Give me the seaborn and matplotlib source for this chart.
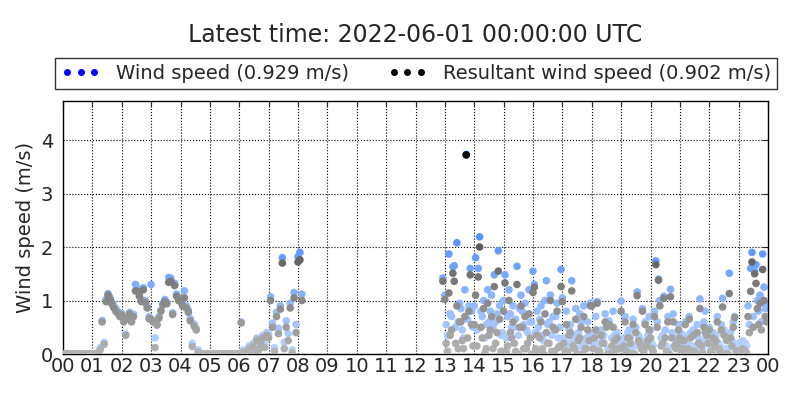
import numpy as np
import pandas as pd
import seaborn as sns
import matplotlib.pyplot as plt
from matplotlib.colors import LinearSegmentedColormap
from matplotlib.lines import Line2D

# ---------------------------------------------------------
# data: one row per hour, samples evenly spread over the hour (m/s)
# nan = no data
# ---------------------------------------------------------
nan = np.nan

wind_speed = [
    [0] * 15,                                                                                # 00
    [0, 0, 0, 0.04, 0.12, 0.63, 0.22, 1.02, 1.13, 1.06, 0.97, 0.9, 0.85, 0.8, 0.74],         # 01
    [0.76, 0.64, 0.37, 0.7, 0.78, 0.64, 0.74, 1.3, 1.22, 1.12, 1.02, 1.24, 1.0, 0.9, 0.7],   # 02
    [1.3, 0.62, 0.3, 0.56, 0.7, 0.82, 0.95, 1.02, 0.97, 1.43, 1.42, 0.77, 1.32, 1.12, 1.05], # 03
    [1.02, 0.95, 1.18, 0.9, 0.82, 0.66, 0.2, 0.56, 0.48, 0.08, 0, 0, 0, 0, 0],               # 04
    [0] * 15,                                                                                # 05
    [0, 0.6, 0.08, 0, 0.05, 0.15, 0, 0.2, 0.05, 0.3, 0.12, 0.25, 0.35, 0.18, 0.4],           # 06
    [0.38, 1.07, 0.58, 0.12, 0.78, 0.48, 0.9, 1.8, 0.22, 0.62, 0.38, 0.95, 0.08, 1.15, 0.55],# 07
    [1.82, 1.9, 1.12] + [nan] * 12,                                                          # 08
    [nan] * 15, [nan] * 15, [nan] * 15,                                                      # 09-11
    [nan] * 14 + [1.42],                                                                     # 12
    [1.1, 0.55, 0.35, 1.87, 0.75, 0.7, 1.63, 1.65, 0.5, 2.08, 0.6, 0.95, 0.85, 0.45, 0.3,
     1.2, 3.73, 0.65, 0.9, 1.6, 0.8, 0.5],                                                   # 13
    [0.9, 1.8, 0.45, 1.6, 2.19, 0.8, 0.7, 1.0, 0.3, 0.55, 1.2, 0.6, 0.8, 1.1, 0.5,
     1.48, 0.6, 0.75, 1.93, 0.9, 0.35, 0.4],                                                 # 14
    [1.0, 1.48, 0.3, 0.7, 1.2, 0.75, 0.5, 0.9, 0.5, 0.65, 1.64, 0.35, 0.85, 1.1, 0.8,
     0.55, 0.95, 0.45, 0.4, 1.2, 0.6, 0.6],                                                  # 15
    [1.55, 1.3, 0.4, 0.8, 0.5, 0.65, 0.9, 0.35, 0.25, 1.0, 1.37, 0.55, 0.6, 1.1, 0.35,
     0.7, 0.45, 0.7, 0.95, 0.3, 0.5, 1.58],                                                  # 16
    [1.05, 0.3, 0.15, 0.8, 0.2, 0.45, 0.55, 1.37, 0.25, 0.35, 0.85, 0.1, 0.4, 0.75, 0.6,
     0.15, 0.9, 0.2, 0.3, 0.6, 0.35, 0.95],                                                  # 17
    [0.95, 0.2, 0.4, 0.7, 0.98, 0.15, 0.2, 0.45, 0.3, 0.35, 0.75, 0.6, 0.1, 0.62, 0.1,
     0.3, 0.8, 0.35, 0.2, 0.4, 0.2, 0.25],                                                   # 18
    [0.99, 0.2, 0.3, 0.7, 0.15, 0.4, 0.45, 0.3, 0.1, 0.65, 0.15, 0.5, 1.16, 0.35, 0.3,
     0.25, 0.85, 0.15, 0.6, 0.25, 0.35, 0.7],                                                # 19
    [0.45, 0.2, 0.15, 0.8, 1.74, 0.6, 1.4, 1.0, 0.3, 0.35, 1.08, 0.45, 0.15, 0.7, 0.1,
     1.21, 0.4, 0.75, 0.3, 0.2, 0.3, 0.55],                                                  # 20
    [0.4, 0.15, 0.2, 0.35, 0.6, 0.1, 0.2, 0.7, 0.4, 0.15, 0.45, 0.15, 0.1, 0.55, 0.3,
     1.03, 0.25, 0.1, 0.6, 0.8, 0.45, 0.3],                                                  # 21
    [0.5, 0.15, 0.1, 0.4, 0.25, 0.35, 0.7, 0.2, 0.15, 0.55, 1.04, 0.45, 0.1, 0.35, 0.1,
     1.51, 0.4, 0.25, 0.6, 0.7, 0.15, 0.15],                                                 # 22
    [0.2, 0.1, 0.12, 0.25, 0.05, 0.2, 0.15, 0.9, 0.55, 1.6, 1.9, 0.7, 1.55, 1.67, 1.0,
     0.8, 1.1, 0.6, 1.87, 1.25, 0.85, 0.9],                                                  # 23
]

resultant_speed = [
    [0] * 15,                                                                                # 00
    [0, 0, 0, 0.02, 0.08, 0.6, 0.18, 0.98, 1.1, 1.02, 0.93, 0.86, 0.8, 0.76, 0.7],           # 01
    [0.73, 0.6, 0.35, 0.66, 0.75, 0.6, 0.7, 1.18, 1.17, 1.08, 0.98, 1.2, 0.96, 0.86, 0.66],  # 02
    [0.65, 0.6, 0.12, 0.54, 0.67, 0.8, 0.92, 0.98, 0.94, 1.34, 1.36, 0.74, 1.28, 1.08, 1.0], # 03
    [0.98, 0.9, 1.05, 0.86, 0.78, 0.62, 0.14, 0.52, 0.45, 0.04, 0, 0, 0, 0, 0],              # 04
    [0] * 15,                                                                                # 05
    [0, 0.58, 0.04, 0, 0.02, 0.1, 0, 0.15, 0.02, 0.26, 0.08, 0.2, 0.3, 0.12, 0.35],          # 06
    [0.3, 1.0, 0.5, 0.05, 0.7, 0.38, 0.84, 1.7, 0.1, 0.5, 0.25, 0.86, 0.02, 1.05, 0.4],      # 07
    [1.72, 1.76, 1.0] + [nan] * 12,                                                          # 08
    [nan] * 15, [nan] * 15, [nan] * 15,                                                      # 09-11
    [nan] * 14 + [1.36],                                                                     # 12
    [1.02, 0.2, 0.05, 1.14, 0.35, 0.45, 1.51, 1.36, 0.2, 0.9, 0.1, 0.6, 0.6, 0.25, 0.1,
     0.7, 3.72, 0.3, 0.8, 1.48, 0.55, 0.15],                                                 # 13
    [0.55, 1.1, 0.15, 1.44, 2.0, 0.5, 0.3, 0.85, 0.02, 0.1, 0.95, 0.35, 0.45, 0.7, 0.1,
     1.26, 0.2, 0.4, 1.55, 0.65, 0.05, 0.05],                                                # 14
    [0.8, 1.33, 0.05, 0.15, 1.0, 0.4, 0.3, 0.6, 0.2, 0.05, 1.3, 0.0, 0.5, 0.9, 0.5,
     0.1, 0.7, 0.1, 0.2, 0.75, 0.3, 0.0],                                                    # 15
    [1.15, 1.25, 0.1, 0.35, 0.05, 0.3, 0.6, 0.1, 0.0, 0.75, 0.4, 0.2, 0.2, 1.0, 0.05,
     0.5, 0.05, 0.45, 0.8, 0.12, 0.15, 1.26],                                                # 16
    [0.98, 0.2, 0.05, 0.55, 0.05, 0.35, 0.4, 1.18, 0.15, 0.1, 0.65, 0.0, 0.25, 0.3, 0.5,
     0.0, 0.7, 0.1, 0.1, 0.45, 0.25, 0.9],                                                   # 17
    [0.9, 0.1, 0.3, 0.45, 0.95, 0.05, 0.05, 0.35, 0.2, 0.2, 0.6, 0.5, 0.0, 0.55, 0.0,
     0.15, 0.5, 0.25, 0.08, 0.3, 0.1, 0.1],                                                  # 18
    [0.8, 0.1, 0.15, 0.6, 0.05, 0.3, 0.3, 0.2, 0.0, 0.55, 0.0, 0.4, 1.09, 0.25, 0.2,
     0.1, 0.8, 0.05, 0.55, 0.15, 0.25, 0.45],                                                # 19
    [0.3, 0.1, 0.05, 0.7, 1.67, 0.5, 1.38, 0.9, 0.15, 0.2, 1.04, 0.3, 0.05, 0.6, 0.0,
     1.07, 0.3, 0.6, 0.15, 0.1, 0.2, 0.45],                                                  # 20
    [0.3, 0.05, 0.1, 0.25, 0.55, 0.0, 0.1, 0.65, 0.3, 0.05, 0.35, 0.05, 0.0, 0.4, 0.2,
     0.85, 0.15, 0.02, 0.5, 0.4, 0.35, 0.2],                                                 # 21
    [0.45, 0.05, 0.02, 0.3, 0.15, 0.25, 0.6, 0.1, 0.05, 0.45, 0.88, 0.35, 0.0, 0.25, 0.0,
     1.13, 0.3, 0.15, 0.5, 0.68, 0.05, 0.05],                                                # 22
    [0.05, 0.0, 0.02, 0.1, 0.0, 0.05, 0.02, 0.7, 0.4, 1.17, 1.72, 0.5, 1.5, 1.32, 0.85,
     0.55, 0.95, 0.45, 1.58, 1.0, 0.7, 0.6],                                                 # 23
]

hour_labels = ["%02d" % h for h in range(24)] + ["00"]
title_text = "Latest time: 2022-06-01 00:00:00 UTC"
legend_labels = ["Wind speed (0.929 m/s)", "Resultant wind speed (0.902 m/s)"]

# sample times: spread evenly inside each hour
rows = []
for h, (w_row, r_row) in enumerate(zip(wind_speed, resultant_speed)):
    n = len(w_row)
    for i in range(n):
        rows.append({"hour": h + i / n, "wind": w_row[i], "resultant": r_row[i]})
df = pd.DataFrame(rows)

# colour fades with speed, like the original
cmap_wind = LinearSegmentedColormap.from_list("w", ["#bcd6ff", "#0058ff"])
cmap_res = LinearSegmentedColormap.from_list("r", ["#b4b4b4", "#000000"])

# =========================================================
# plot
# =========================================================
sns.set_style("white")
plt.rcParams["font.family"] = ["DejaVu Sans"]

fig = plt.figure(figsize=(8, 4), dpi=100)
ax = fig.add_axes([63 / 800, 46 / 400, 705 / 800, 253 / 400])

sns.scatterplot(data=df.dropna(subset=["wind"]), x="hour", y="wind", hue="wind",
                palette=cmap_wind, hue_norm=(0, 4), s=30, linewidth=0,
                legend=False, ax=ax, zorder=2)
sns.scatterplot(data=df.dropna(subset=["resultant"]), x="hour", y="resultant", hue="resultant",
                palette=cmap_res, hue_norm=(0, 4), s=30, linewidth=0,
                legend=False, ax=ax, zorder=3)

ax.set_xlim(0, 24)
ax.set_ylim(0, 4.73)
ax.set_xticks(range(25))
ax.set_xticklabels(hour_labels)
ax.set_yticks(range(5))
ax.set_xlabel("")
ax.set_ylabel("Wind speed (m/s)", fontsize=14)
ax.tick_params(labelsize=14, direction="in", top=True, right=True, length=4)
ax.tick_params(axis="x", pad=2)
ax.tick_params(axis="y", pad=7)
ax.grid(True, color="black", linestyle=":", linewidth=0.8)
for sp in ax.spines.values():
    sp.set_color("black")
    sp.set_linewidth(1)

ax.text(0.5, 1.262, title_text, transform=ax.transAxes, ha="center", va="center", fontsize=17)

handles = [
    Line2D([], [], marker="o", linestyle="none", color="#0000ff", markersize=4),
    Line2D([], [], marker="o", linestyle="none", color="black", markersize=4),
]
leg = ax.legend(handles, legend_labels, loc="lower left", ncol=2, mode="expand",
                bbox_to_anchor=(-0.011, 1.047, 1.024, 0.131), borderaxespad=0,
                numpoints=3, fontsize=14, frameon=True, fancybox=False,
                handlelength=2.0, handletextpad=0.85, borderpad=0.3)
leg.get_frame().set_edgecolor("black")
leg.get_frame().set_linewidth(1)

fig.savefig("out.png", dpi=100)
